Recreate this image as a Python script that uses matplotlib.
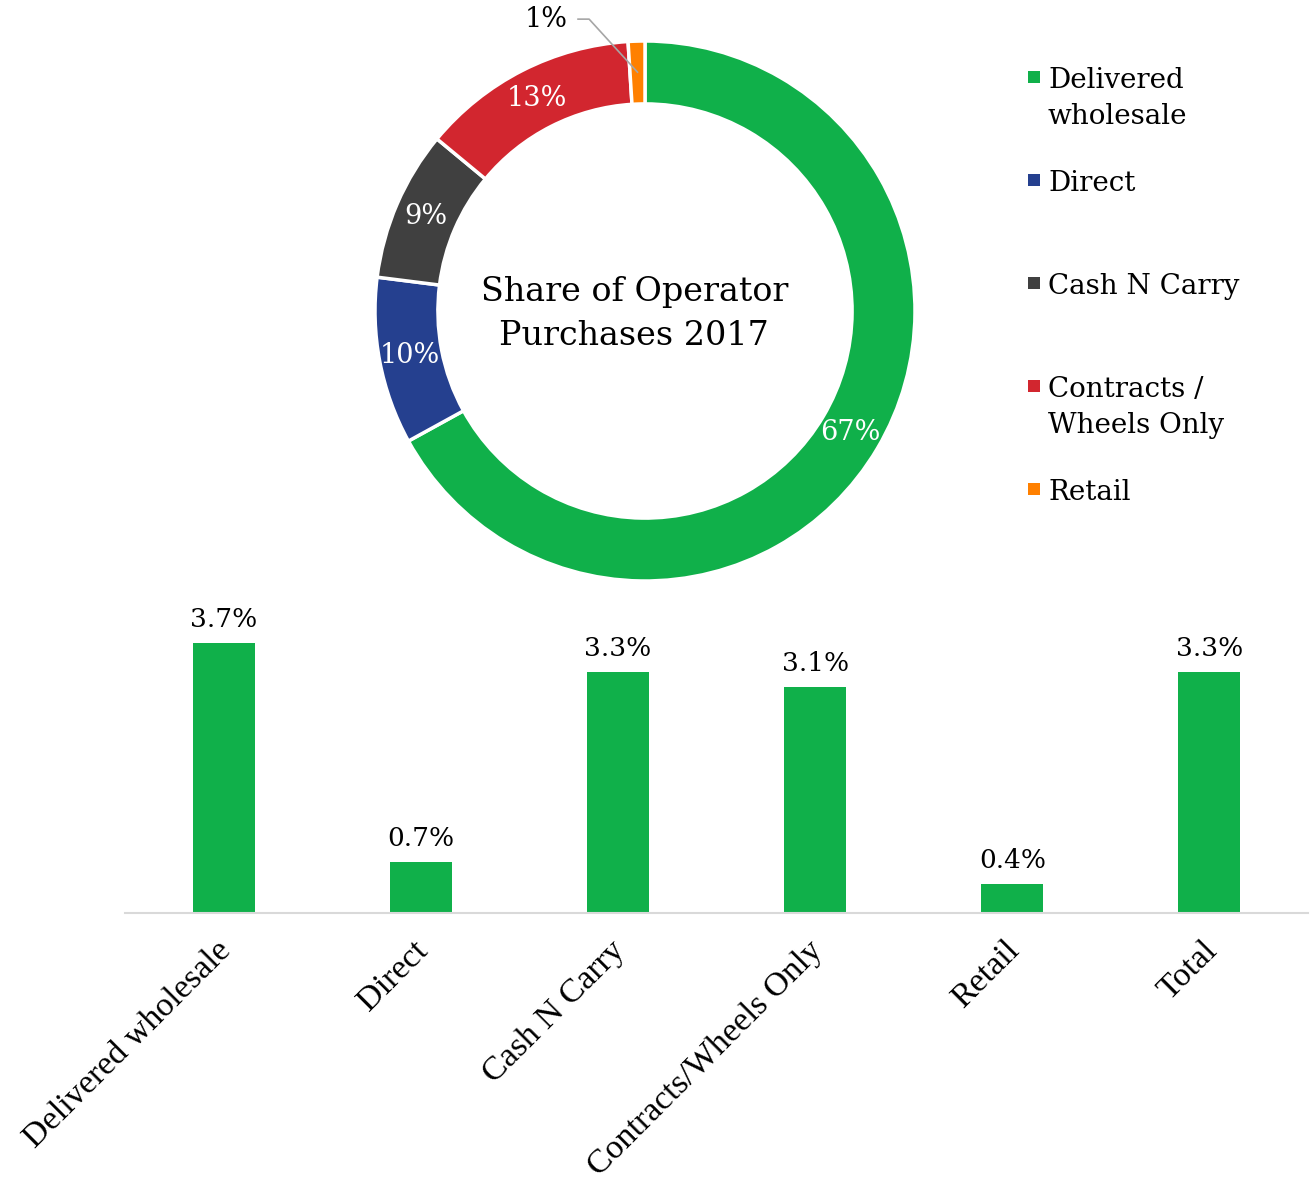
import numpy as np
import matplotlib.pyplot as plt
from matplotlib.patches import Rectangle
from matplotlib.transforms import ScaledTranslation

# channel mix (donut) and growth by channel (bars)
channels = ['Delivered\nwholesale', 'Direct', 'Cash N Carry',
            'Contracts /\nWheels Only', 'Retail']
share_2017 = [67, 10, 9, 13, 1]
channel_colors = ['#10B04A', '#25408F', '#404040', '#D2262F', '#FF8000']

growth_labels = ['Delivered wholesale', 'Direct', 'Cash N Carry',
                 'Contracts/Wheels Only', 'Retail', 'Total']
growth_pct = [3.7, 0.7, 3.3, 3.1, 0.4, 3.3]
bar_color = '#10B04A'

W, H = 1312, 1184
SERIF = 'DejaVu Serif'


def px_box(x0, y0, x1, y1):
    ''' axes rect from pixel corners (origin top-left) '''
    return [x0 / W, 1 - y1 / H, (x1 - x0) / W, (y1 - y0) / H]


fig = plt.figure(figsize=(W / 100, H / 100), dpi=100)

# --- donut ---
ax_pie = fig.add_axes(px_box(375, 41, 915, 581))
wedges, texts, pcts = ax_pie.pie(
    share_2017, colors=channel_colors, startangle=90, counterclock=False,
    radius=1, autopct='%d%%', pctdistance=0.885,
    wedgeprops=dict(width=0.233, edgecolor='white', linewidth=2.5),
    textprops=dict(color='white', fontsize=19.5, family=SERIF))
ax_pie.set_xlim(-1, 1)
ax_pie.set_ylim(-1, 1)
ax_pie.set_aspect('equal')

# retail slice is too thin, pull its label outside with a leader line
w = wedges[4]
mid = np.deg2rad((w.theta1 + w.theta2) / 2)
end = (0.885 * np.cos(mid), 0.885 * np.sin(mid))
ax_pie.plot([-0.248, -0.207, end[0]], [1.081, 1.081, end[1]],
            color='#A6A6A6', lw=1.2, clip_on=False)
pcts[4].set_position((-0.285, 1.078))
pcts[4].set_color('black')
pcts[4].set_ha('right')

ax_pie.text(-0.04, -0.011, 'Share of Operator\nPurchases 2017',
            ha='center', va='center', fontsize=24, family=SERIF,
            linespacing=1.45)

# --- legend, drawn by hand so markers sit on the first line ---
for i, (name, col) in enumerate(zip(channels, channel_colors)):
    top = 71 + 103 * i
    fig.add_artist(Rectangle((1028 / W, 1 - (top + 12) / H), 12 / W, 12 / H,
                             transform=fig.transFigure, color=col, lw=0))
    for j, line in enumerate(name.split('\n')):
        base = top + 17 + 36 * j
        fig.text(1048 / W, 1 - base / H, line, ha='left', va='baseline',
                 fontsize=20, family=SERIF)

# --- growth bars ---
ax_bar = fig.add_axes(px_box(125, 621, 1308, 913))
x = np.arange(len(growth_pct))
bars = ax_bar.bar(x, growth_pct, width=0.315, color=bar_color)
ax_bar.bar_label(bars, labels=['%.1f%%' % v for v in growth_pct],
                 padding=8, fontsize=19, family=SERIF)
ax_bar.set_xlim(-0.5, 5.5)
ax_bar.set_ylim(0, 4)
for side in ['top', 'right', 'left']:
    ax_bar.spines[side].set_visible(False)
ax_bar.spines['bottom'].set_color('#D9D9D9')
ax_bar.spines['bottom'].set_linewidth(1.5)
ax_bar.set_yticks([])
ax_bar.set_xticks(x)
ax_bar.set_xticklabels(growth_labels, rotation=45, ha='right',
                       rotation_mode='anchor', fontsize=24.5,
                       family='Liberation Serif')
ax_bar.tick_params(axis='x', length=0, pad=16)
shift = ScaledTranslation(-8 / 100, 0, fig.dpi_scale_trans)
for lbl in ax_bar.get_xticklabels():
    lbl.set_transform(lbl.get_transform() + shift)

fig.savefig('out.png', dpi=100)
